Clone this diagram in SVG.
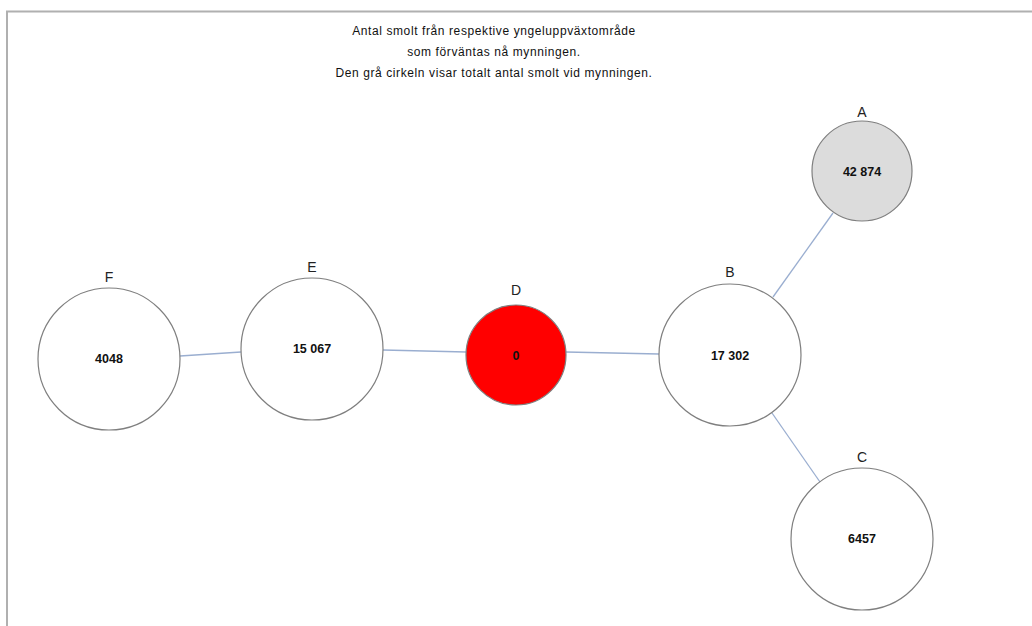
<svg xmlns="http://www.w3.org/2000/svg" width="1032" height="626" viewBox="0 0 1032 626">
<style>
.frame{fill:none;stroke:#b0b0b0;stroke-width:2}
.node{stroke:#7f7f7f;stroke-width:1.2}
.lbl{font-family:"Liberation Sans",Arial,sans-serif;font-size:14px;fill:#222;text-anchor:middle}
.val{font-family:"Liberation Sans",Arial,sans-serif;font-size:12.5px;font-weight:bold;fill:#111;text-anchor:middle}
.title{font-family:"Liberation Sans",Arial,sans-serif;font-size:12px;letter-spacing:0.6px;fill:#111;text-anchor:middle}
.edge{stroke:#9aaed0;stroke-width:1.3;fill:none}
</style>
<rect width="1032" height="626" fill="#fff"/>
<path class="frame" d="M7 626 V11.5 H1032"/>
<g id="title">
<text class="title" x="494" y="35">Antal smolt från respektive yngeluppväxtområde</text>
<text class="title" x="494" y="56">som förväntas nå mynningen.</text>
<text class="title" x="494" y="77">Den grå cirkeln visar totalt antal smolt vid mynningen.</text>
</g>
<g id="connectors">
<line class="edge" x1="180" y1="356" x2="241" y2="352"/>
<line class="edge" x1="383" y1="350" x2="466" y2="352"/>
<line class="edge" x1="566" y1="352" x2="659" y2="354"/>
<line class="edge" x1="773" y1="297" x2="833" y2="213"/>
<line class="edge" x1="772" y1="413" x2="820" y2="482"/>
</g>
<g id="node-A">
<circle class="node" cx="862" cy="171" r="50" fill="#dcdcdc"/>
<text class="lbl" x="862" y="117">A</text>
<text class="val" x="862" y="176">42 874</text>
</g>
<g id="node-B">
<circle class="node" cx="730" cy="355" r="71" fill="#fff"/>
<text class="lbl" x="730" y="277">B</text>
<text class="val" x="730" y="360">17 302</text>
</g>
<g id="node-C">
<circle class="node" cx="862" cy="539" r="71" fill="#fff"/>
<text class="lbl" x="862" y="462">C</text>
<text class="val" x="862" y="543">6457</text>
</g>
<g id="node-D">
<circle class="node" cx="516" cy="355" r="50" fill="#ff0000"/>
<text class="lbl" x="516" y="295">D</text>
<text class="val" x="516" y="360">0</text>
</g>
<g id="node-E">
<circle class="node" cx="312" cy="349" r="71" fill="#fff"/>
<text class="lbl" x="312" y="272">E</text>
<text class="val" x="312" y="353">15 067</text>
</g>
<g id="node-F">
<circle class="node" cx="109" cy="359" r="71" fill="#fff"/>
<text class="lbl" x="109" y="282">F</text>
<text class="val" x="109" y="363">4048</text>
</g>
</svg>
